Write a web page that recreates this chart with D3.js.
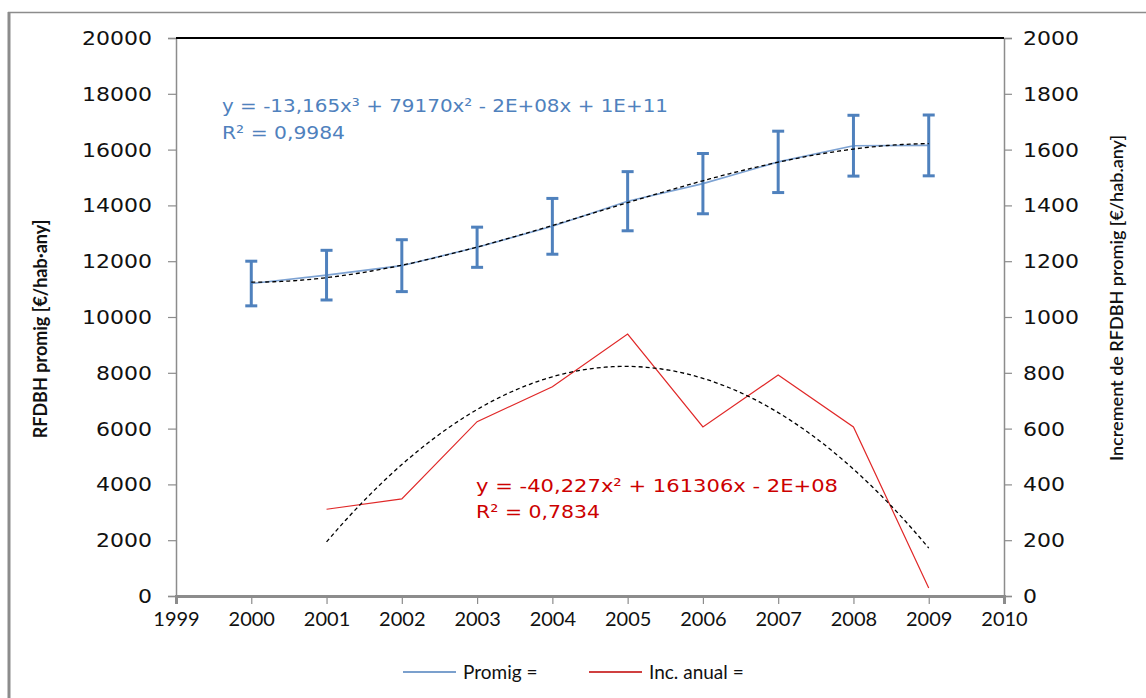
<!DOCTYPE html>
<html>
<head>
<meta charset="utf-8">
<script src="https://cdn.jsdelivr.net/npm/d3@7"></script>
<style>
  html, body { margin: 0; padding: 0; background: #fff; }
  svg { display: block; }
</style>
</head>
<body>
<svg id="chart" width="1146" height="698"></svg>
<script>
// Years on the x axis
const years = [2000, 2001, 2002, 2003, 2004, 2005, 2006, 2007, 2008, 2009];
// Average gross disposable household income per inhabitant (€/hab·any)
const promig = [11200, 11500, 11840, 12500, 13250, 14150, 14780, 15560, 16140, 16150];
// Half-width of the error bars (€/hab·any)
const promigErr = [800, 890, 930, 720, 1000, 1060, 1080, 1100, 1090, 1090];
// Yearly increment (€/hab·any), right axis, from 2001
const incYears = [2001, 2002, 2003, 2004, 2005, 2006, 2007, 2008, 2009];
const incAnual = [311, 348, 625, 750, 939, 606, 792, 606, 29];
// Tick values
const xTicks = [1999, 2000, 2001, 2002, 2003, 2004, 2005, 2006, 2007, 2008, 2009, 2010];
const yLeftTicks = [0, 2000, 4000, 6000, 8000, 10000, 12000, 14000, 16000, 18000, 20000];
const yRightTicks = [0, 200, 400, 600, 800, 1000, 1200, 1400, 1600, 1800, 2000];
// Trend line labels
const promigEq = ["y = -13,165x³ + 79170x² - 2E+08x + 1E+11", "R² = 0,9984"];
const incEq = ["y = -40,227x² + 161306x - 2E+08", "R² = 0,7834"];
const legendNames = ["Promig =", "Inc. anual ="];

const svg = d3.select("#chart");
const m = { left: 176, right: 1004, top: 38, bottom: 596 };

const x = d3.scaleLinear().domain([1999, 2010]).range([m.left, m.right]);
const yL = d3.scaleLinear().domain([0, 20000]).range([m.bottom, m.top]);
const yR = d3.scaleLinear().domain([0, 2000]).range([m.bottom, m.top]);

// Least-squares polynomial fit (x centred on 2005 for stability)
function polyFit(xs, ys, deg) {
  const n = deg + 1;
  const A = Array.from({ length: n }, () => new Array(n + 1).fill(0));
  xs.forEach((xv, k) => {
    const t = xv - 2005;
    for (let i = 0; i < n; i++) {
      for (let j = 0; j < n; j++) A[i][j] += Math.pow(t, i + j);
      A[i][n] += Math.pow(t, i) * ys[k];
    }
  });
  for (let c = 0; c < n; c++) {
    let p = c;
    for (let r = c + 1; r < n; r++) if (Math.abs(A[r][c]) > Math.abs(A[p][c])) p = r;
    [A[c], A[p]] = [A[p], A[c]];
    for (let r = 0; r < n; r++) {
      if (r === c) continue;
      const f = A[r][c] / A[c][c];
      for (let k = c; k <= n; k++) A[r][k] -= f * A[c][k];
    }
  }
  const coef = A.map((row, i) => row[n] / row[i]);
  return xv => coef.reduce((s, c, i) => s + c * Math.pow(xv - 2005, i), 0);
}

// Outer frame
svg.append("line").attr("x1", 9).attr("x2", 9).attr("y1", 12).attr("y2", 698)
  .attr("stroke", "#8c8c8c").attr("stroke-width", 3);
svg.append("line").attr("x1", 8).attr("x2", 1146).attr("y1", 12.5).attr("y2", 12.5)
  .attr("stroke", "#8c8c8c").attr("stroke-width", 1.5);

// Axes
const tickFont = "'DejaVu Sans', sans-serif";
const gL = svg.append("g").attr("transform", `translate(${m.left},0)`)
  .call(d3.axisLeft(yL).tickValues(yLeftTicks).tickSize(8).tickPadding(16).tickFormat(d3.format("d")));
const gR = svg.append("g").attr("transform", `translate(${m.right},0)`)
  .call(d3.axisRight(yR).tickValues(yRightTicks).tickSize(8).tickPadding(11).tickFormat(d3.format("d")));
const gX = svg.append("g").attr("transform", `translate(0,${m.bottom})`)
  .call(d3.axisBottom(x).tickValues(xTicks).tickSize(8).tickPadding(8).tickFormat(d3.format("d")));

[gL, gR, gX].forEach(g => {
  g.select(".domain").attr("stroke", "#8c8c8c").attr("stroke-width", 1.5);
  g.selectAll(".tick line").attr("stroke", "#8c8c8c").attr("stroke-width", 1.2);
});
gX.select(".domain").attr("stroke-width", 3);
// Wide digits for the value axes
[gL, gR].forEach(g => g.selectAll(".tick text")
  .attr("font-family", tickFont).attr("font-size", 20).attr("fill", "#111")
  .attr("textLength", function () { return this.textContent.length * 14; })
  .attr("lengthAdjust", "spacingAndGlyphs"));
gX.selectAll(".tick text").attr("font-family", "Lato, 'Open Sans', sans-serif")
  .attr("font-size", 20).attr("fill", "#111");

// Top border of the plot area
svg.append("line").attr("x1", m.left).attr("x2", m.right).attr("y1", m.top).attr("y2", m.top)
  .attr("stroke", "#000").attr("stroke-width", 2.2);

// Axis titles
svg.append("text")
  .attr("transform", `translate(47,${(m.top + m.bottom) / 2 + 12}) rotate(-90)`)
  .attr("text-anchor", "middle").attr("font-family", "Lato, sans-serif")
  .attr("font-size", 18).attr("font-weight", 700).attr("fill", "#111")
  .text("RFDBH promig [€/hab·any]");
svg.append("text")
  .attr("transform", `translate(1123,${298}) rotate(-90)`)
  .attr("text-anchor", "middle").attr("font-family", "Lato, sans-serif")
  .attr("font-size", 18).attr("font-weight", 600).attr("fill", "#111")
  .text("Increment de RFDBH promig [€/hab.any]");

// Promig: line
const blue = "#4f81bd";
svg.append("path").datum(years.map((yv, i) => [yv, promig[i]]))
  .attr("fill", "none").attr("stroke", "#7ea3d3").attr("stroke-width", 1.6)
  .attr("d", d3.line().x(d => x(d[0])).y(d => yL(d[1])));

// Promig: error bars
const eb = svg.append("g").selectAll("g").data(years).join("g");
eb.append("line")
  .attr("x1", (d) => x(d)).attr("x2", (d) => x(d))
  .attr("y1", (d, i) => yL(promig[i] + promigErr[i]))
  .attr("y2", (d, i) => yL(promig[i] - promigErr[i]))
  .attr("stroke", blue).attr("stroke-width", 3);
eb.selectAll(".cap").data((d, i) => [[d, promig[i] + promigErr[i]], [d, promig[i] - promigErr[i]]])
  .join("line").attr("class", "cap")
  .attr("x1", d => x(d[0]) - 6).attr("x2", d => x(d[0]) + 6)
  .attr("y1", d => yL(d[1])).attr("y2", d => yL(d[1]))
  .attr("stroke", blue).attr("stroke-width", 3);

// Promig: cubic trend line
const fitP = polyFit(years, promig, 3);
const xsP = d3.range(2000, 2009.001, 0.05);
svg.append("path").datum(xsP)
  .attr("fill", "none").attr("stroke", "#000").attr("stroke-width", 1.3)
  .attr("stroke-dasharray", "4,3")
  .attr("d", d3.line().x(d => x(d)).y(d => yL(fitP(d))));

// Inc. anual: line
svg.append("path").datum(incYears.map((yv, i) => [yv, incAnual[i]]))
  .attr("fill", "none").attr("stroke", "#e02828").attr("stroke-width", 1.2)
  .attr("d", d3.line().x(d => x(d[0])).y(d => yR(d[1])));

// Inc. anual: quadratic trend line
const fitI = polyFit(incYears, incAnual, 2);
const xsI = d3.range(2001, 2009.001, 0.05);
svg.append("path").datum(xsI)
  .attr("fill", "none").attr("stroke", "#000").attr("stroke-width", 1.3)
  .attr("stroke-dasharray", "4,3")
  .attr("d", d3.line().x(d => x(d)).y(d => yR(fitI(d))));

// Trend line equations
const eqFont = "'DejaVu Sans', sans-serif";
const promigEqLen = [446, 123];
const incEqLen = [362, 124];
svg.append("g").selectAll("text").data(promigEq).join("text")
  .attr("x", 222).attr("y", (d, i) => 112 + i * 27)
  .attr("font-family", eqFont).attr("font-size", 18).attr("fill", blue)
  .attr("textLength", (d, i) => promigEqLen[i]).attr("lengthAdjust", "spacingAndGlyphs")
  .text(d => d);
svg.append("g").selectAll("text").data(incEq).join("text")
  .attr("x", 476).attr("y", (d, i) => 492 + i * 26)
  .attr("font-family", eqFont).attr("font-size", 18).attr("fill", "#cc0000")
  .attr("textLength", (d, i) => incEqLen[i]).attr("lengthAdjust", "spacingAndGlyphs")
  .text(d => d);

// Legend
const legendColors = [blue, "#c00000"];
const lg = svg.append("g").selectAll("g").data(legendNames).join("g")
  .attr("transform", (d, i) => `translate(${[403, 589][i]},672)`);
lg.append("line").attr("x1", 0).attr("x2", 53).attr("y1", 0).attr("y2", 0)
  .attr("stroke", (d, i) => legendColors[i]).attr("stroke-width", 1.3);
lg.append("text").attr("x", 60).attr("y", 7)
  .attr("font-family", "Lato, sans-serif").attr("font-size", 19).attr("fill", "#111")
  .text(d => d);
</script>
</body>
</html>
